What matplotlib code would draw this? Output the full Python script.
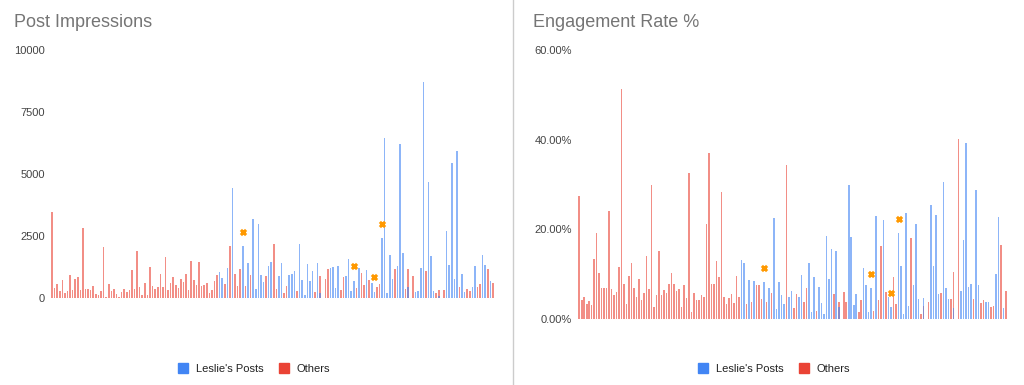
import matplotlib

matplotlib.use("Agg")
import matplotlib.pyplot as plt
from matplotlib.lines import Line2D
import numpy as np

plt.rcParams["font.family"] = ["Liberation Sans", "DejaVu Sans"]

# one slot per post, in posting order (0 = no post from that group)
impressions_others = [
    3460, 415, 550, 295, 713, 215, 270, 927, 335, 778,
    834, 335, 2810, 350, 360, 310, 484, 175, 110, 295,
    2070, 30, 565, 295, 360, 175, 55, 230, 375, 230,
    320, 1128, 375, 1906, 455, 110, 590, 120, 1237, 484,
    360, 445, 967, 430, 1665, 310, 617, 834, 510, 405,
    778, 655, 967, 320, 1490, 713, 525, 1437, 470, 540,
    590, 215, 320, 670, 927, 0, 0, 550, 0, 2095,
    0, 967, 497, 1168, 0, 483, 0, 940, 0, 0,
    0, 0, 0, 900, 0, 0, 2162, 363, 0, 0,
    188, 483, 0, 0, 0, 295, 0, 0, 0, 0,
    0, 0, 255, 0, 900, 0, 752, 1155, 0, 0,
    0, 0, 336, 833, 0, 0, 0, 0, 403, 0,
    1007, 524, 0, 712, 0, 0, 430, 550, 0, 0,
    0, 0, 0, 1182, 0, 0, 0, 349, 1155, 0,
    886, 0, 0, 0, 0, 1088, 0, 0, 0, 188,
    322, 0, 322, 0, 0, 0, 0, 0, 456, 0,
    0, 363, 295, 0, 0, 443, 564, 0, 0, 1168,
    0, 591,
]
impressions_leslie = [0] * 65 + [
    1048, 820, 0, 1195, 0,
    4430, 0, 0, 0, 2108, 0, 1397, 0, 3196, 376,
    2981, 940, 631, 0, 1276, 1437, 0, 0, 886, 1423,
    0, 0, 927, 967, 1088, 0, 2189, 712, 107, 1356,
    685, 1088, 0, 1423, 188, 0, 0, 0, 1195, 1249,
    389, 1302, 0, 0, 886, 1571, 282, 698, 0, 1195,
    0, 0, 1128, 0, 591, 255, 0, 0, 2430, 6460,
    215, 1719, 765, 0, 1289, 6205, 1826, 0, 430, 0,
    0, 255, 282, 1222, 8690, 0, 4660, 1692, 282, 0,
    80, 0, 0, 2700, 1316, 5450, 752, 5910, 0, 967,
    255, 0, 0, 443, 1289, 0, 0, 1719, 1316, 0,
    671, 0,
]
engagement_others = [
    27.4, 4.2, 5.0, 3.3, 4.0, 3.1, 13.4, 19.2, 10.3, 7.0,
    7.0, 7.0, 24.0, 6.8, 5.3, 6.1, 11.5, 51.2, 7.8, 3.4,
    9.6, 12.6, 6.9, 4.8, 9.0, 4.2, 5.9, 14.0, 6.7, 30.0,
    2.7, 5.3, 15.1, 5.3, 6.5, 5.9, 7.7, 10.2, 7.7, 6.3,
    6.7, 2.6, 7.6, 4.7, 32.6, 1.5, 5.7, 4.2, 4.2, 5.3,
    4.9, 21.2, 37.0, 7.9, 7.7, 12.9, 9.4, 28.4, 4.8, 3.3,
    4.6, 5.6, 3.5, 9.7, 5.0, 0, 0, 3.3, 0, 3.7,
    0, 7.6, 7.6, 4.5, 0, 3.8, 0, 5.7, 0, 0,
    0, 0, 0, 34.4, 0, 0, 2.4, 5.6, 0, 0,
    3.8, 6.9, 0, 0, 0, 1.7, 0, 0, 0, 0,
    0, 0, 5.6, 0, 3.9, 0, 6.1, 3.9, 0, 0,
    0, 0, 1.6, 4.3, 0, 0, 0, 0, 1.7, 0,
    4.2, 16.2, 0, 6.0, 0, 0, 9.4, 3.3, 0, 0,
    0, 0, 0, 18.0, 0, 0, 0, 1.1, 3.0, 0,
    3.8, 0, 0, 0, 0, 5.7, 0, 0, 0, 4.5,
    10.5, 0, 40.1, 0, 0, 0, 0, 0, 4.5, 0,
    0, 3.6, 4.2, 0, 0, 2.7, 3.0, 0, 0, 16.5,
    0, 6.3,
]
engagement_leslie = [0] * 65 + [
    13.2, 12.5, 0, 8.8, 0,
    8.4, 0, 0, 0, 8.2, 0, 6.9, 0, 22.5, 2.2,
    8.2, 5.3, 3.4, 0, 5.0, 6.3, 0, 0, 5.0, 9.9,
    0, 0, 12.5, 1.6, 9.4, 0, 7.1, 3.6, 1.1, 18.6,
    9.0, 15.7, 0, 15.2, 2.7, 0, 0, 0, 29.8, 18.4,
    3.1, 5.6, 0, 0, 11.3, 7.6, 1.6, 6.9, 0, 22.9,
    0, 0, 22.0, 0, 4.9, 2.7, 0, 0, 19.2, 11.9,
    1.1, 23.6, 3.0, 0, 7.5, 21.3, 4.4, 0, 4.6, 0,
    0, 25.5, 11.9, 23.2, 5.5, 0, 30.6, 6.9, 4.5, 0,
    2.4, 0, 0, 6.3, 17.7, 39.2, 7.2, 7.9, 0, 28.8,
    7.5, 0, 0, 3.8, 3.8, 0, 0, 10.0, 22.8, 0,
    2.5, 0,
]

# highlighted posts (orange crosses)
highlight_posts = [74, 117, 125, 128]
highlight_impressions = [2660, 1276, 833, 2995]
highlight_engagement = [11.4, 10.0, 5.9, 22.2]

BLUE = "#4285F4"
RED = "#EA4335"
ORANGE = "#FF9900"


def draw_panel(ax, others, leslie, marks, ticks, tick_labels, pad):
    x = np.arange(len(others))
    ax.bar(x, others, width=0.62, color=RED, alpha=0.6, linewidth=0)
    ax.bar(x, leslie, width=0.62, color=BLUE, alpha=0.6, linewidth=0)
    ax.scatter(highlight_posts, marks, marker="x", color=ORANGE, s=14, linewidths=2.2, zorder=3)
    ax.set_xlim(-0.5, len(others) - 0.5)
    ax.set_ylim(ticks[0], ticks[-1])
    ax.set_yticks(ticks)
    ax.set_yticklabels(tick_labels)
    ax.set_xticks([])
    ax.tick_params(axis="y", length=0, pad=pad, labelsize=8, labelcolor="#444444")
    for spine in ax.spines.values():
        spine.set_visible(False)
    ax.patch.set_alpha(0)


fig = plt.figure(figsize=(10.24, 3.85), dpi=100)

ax_left = fig.add_axes([50.7 / 1024, 87 / 385, 443.6 / 1024, 248 / 385])
draw_panel(ax_left, impressions_others, impressions_leslie, highlight_impressions,
           [0, 2500, 5000, 7500, 10000], ["0", "2500", "5000", "7500", "10000"], 4.2)

ax_right = fig.add_axes([578.0 / 1024, 66 / 385, 429.2 / 1024, 269 / 385])
draw_panel(ax_right, engagement_others, engagement_leslie, highlight_engagement,
           [0, 20, 40, 60], ["0.00%", "20.00%", "40.00%", "60.00%"], 4.5)

fig.text(14 / 1024, 1 - 27 / 385, "Post Impressions", fontsize=13, color="#757575", va="baseline")
fig.text(533 / 1024, 1 - 27 / 385, "Engagement Rate %", fontsize=13, color="#757575", va="baseline")

fig.add_artist(Line2D([512.5 / 1024, 512.5 / 1024], [0, 1], color="#cccccc", linewidth=1))

handles = [
    Line2D([], [], marker="s", linestyle="none", markersize=7.5, color=BLUE),
    Line2D([], [], marker="s", linestyle="none", markersize=7.5, color=RED),
]
for cx in (254, 774):
    fig.legend(handles, ["Leslie's Posts", "Others"], loc="center", ncol=2,
               bbox_to_anchor=(cx / 1024, 1 - 369 / 385), frameon=False,
               fontsize=8, labelcolor="#222222", handlelength=0.9,
               handletextpad=0.7, columnspacing=1.4)

fig.savefig("out.png", dpi=100)
plt.close(fig)
